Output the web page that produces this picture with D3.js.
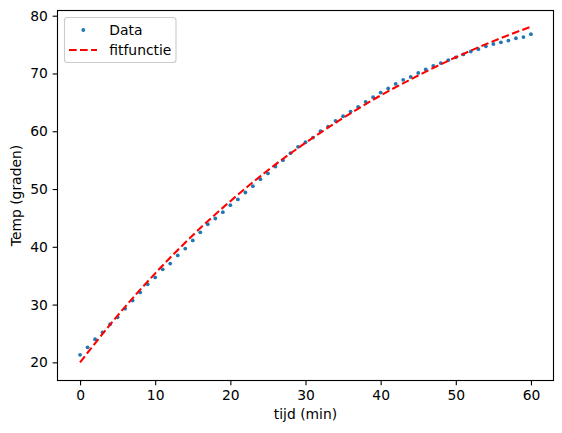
<!DOCTYPE html>
<html>
<head>
<meta charset="utf-8">
<script src="https://cdn.jsdelivr.net/npm/d3@7"></script>
<style>
  body { margin: 0; background: #fff; }
  svg text { font-family: "DejaVu Sans", sans-serif; fill: #000; }
</style>
</head>
<body>
<svg id="canvas" width="562" height="433"></svg>
<script>
'use strict';

// measured data, one reading per minute
var tijd = d3.range(0, 61);
var temp = [
  21.3, 22.6, 24.0, 25.2, 26.6, 27.8, 29.3, 30.7, 32.1, 33.5,
  34.7, 36.1, 37.1, 38.5, 39.7, 41.1, 42.5, 43.9, 44.9, 46.0,
  47.2, 48.2, 49.4, 50.5, 51.7, 52.7, 53.9, 55.0, 56.2, 57.3,
  58.1, 58.9, 60.0, 60.8, 61.8, 62.6, 63.4, 64.2, 65.1, 65.9,
  66.7, 67.4, 68.2, 68.9, 69.4, 70.1, 70.7, 71.3, 71.8, 72.3,
  72.8, 73.3, 73.8, 74.2, 74.7, 75.1, 75.4, 75.7, 76.1, 76.3,
  76.8
];
// fitted curve, every 5 minutes
var fitTijd = [0, 5, 10, 15, 20, 25, 30, 35, 40, 45, 50, 55, 60];
var fitTemp = [20.0, 28.1, 35.4, 42.0, 47.9, 53.25, 58.0, 62.3, 66.2, 69.65, 72.8, 75.6, 78.1];

var xTicks = [0, 10, 20, 30, 40, 50, 60];
var yTicks = [20, 30, 40, 50, 60, 70, 80];

// axes box in pixels
var margin = {top: 10.5, right: 8.5, bottom: 52.5, left: 57.5};
var width = 562, height = 433;

var svg = d3.select('svg#canvas');

var x = d3.scaleLinear()
  .domain([-3, 63])
  .range([margin.left, width - margin.right]);
var y = d3.scaleLinear()
  .domain([16.86, 80.9])
  .range([height - margin.bottom, margin.top]);

var clip = svg.append('clipPath').attr('id', 'plotclip')
  .append('rect')
    .attr('x', margin.left).attr('y', margin.top)
    .attr('width', width - margin.left - margin.right)
    .attr('height', height - margin.top - margin.bottom);

var plot = svg.append('g').attr('clip-path', 'url(#plotclip)');

/* data points */
plot.selectAll('circle.data')
  .data(tijd)
  .enter().append('circle')
    .attr('class', 'data')
    .attr('cx', function(d){ return x(d); })
    .attr('cy', function(d, i){ return y(temp[i]); })
    .attr('r', 1.9)
    .attr('fill', '#1f77b4');

/* fit function */
var line = d3.line()
  .x(function(d){ return x(d); })
  .y(function(d, i){ return y(fitTemp[i]); })
  .curve(d3.curveMonotoneX);

plot.append('path')
  .datum(fitTijd)
  .attr('d', line)
  .attr('fill', 'none')
  .attr('stroke', '#ff0000')
  .attr('stroke-width', 2.08)
  .attr('stroke-dasharray', '7.7,3.3');

/* axes */
var xAxis = d3.axisBottom(x).tickValues(xTicks).tickSize(4.86).tickPadding(4.86);
var yAxis = d3.axisLeft(y).tickValues(yTicks).tickSize(4.86).tickPadding(4.86);

var gx = svg.append('g')
  .attr('transform', 'translate(0,' + (height - margin.bottom) + ')')
  .call(xAxis);
var gy = svg.append('g')
  .attr('transform', 'translate(' + margin.left + ',0)')
  .call(yAxis);

[gx, gy].forEach(function(g){
  g.select('.domain').remove();
  g.selectAll('.tick line').attr('stroke', '#000').attr('stroke-width', 1.11);
  g.selectAll('.tick text')
    .style('font-size', '13.89px')
    .style('font-family', '"DejaVu Sans", sans-serif')
    .attr('fill', '#000');
});
gx.selectAll('.tick text').attr('dy', '0.71em');

/* frame */
svg.append('rect')
  .attr('x', margin.left).attr('y', margin.top)
  .attr('width', width - margin.left - margin.right)
  .attr('height', height - margin.top - margin.bottom)
  .attr('fill', 'none')
  .attr('stroke', '#000')
  .attr('stroke-width', 1.11);

/* axis labels */
svg.append('text')
  .attr('x', (margin.left + width - margin.right) / 2)
  .attr('y', 419)
  .attr('text-anchor', 'middle')
  .style('font-size', '13.89px')
  .text('tijd (min)');

svg.append('text')
  .attr('transform', 'translate(21,' + ((margin.top + height - margin.bottom) / 2) + ') rotate(-90)')
  .attr('text-anchor', 'middle')
  .style('font-size', '13.89px')
  .text('Temp (graden)');

/* legend */
var legend = svg.append('g');
legend.append('rect')
  .attr('x', 64.5).attr('y', 17.5)
  .attr('width', 111.5).attr('height', 45)
  .attr('rx', 3).attr('ry', 3)
  .attr('fill', '#fff').attr('fill-opacity', 0.8)
  .attr('stroke', '#cccccc').attr('stroke-width', 1.11);

legend.append('circle')
  .attr('cx', 83.3).attr('cy', 30)
  .attr('r', 1.9)
  .attr('fill', '#1f77b4');
legend.append('line')
  .attr('x1', 69).attr('x2', 97)
  .attr('y1', 50).attr('y2', 50)
  .attr('stroke', '#ff0000')
  .attr('stroke-width', 2.08)
  .attr('stroke-dasharray', '7.7,3.3');

legend.append('text')
  .attr('x', 109.3).attr('y', 30).attr('dy', '0.36em')
  .style('font-size', '13.89px')
  .text('Data');
legend.append('text')
  .attr('x', 109.3).attr('y', 50).attr('dy', '0.36em')
  .style('font-size', '13.89px')
  .text('fitfunctie');
</script>
</body>
</html>
